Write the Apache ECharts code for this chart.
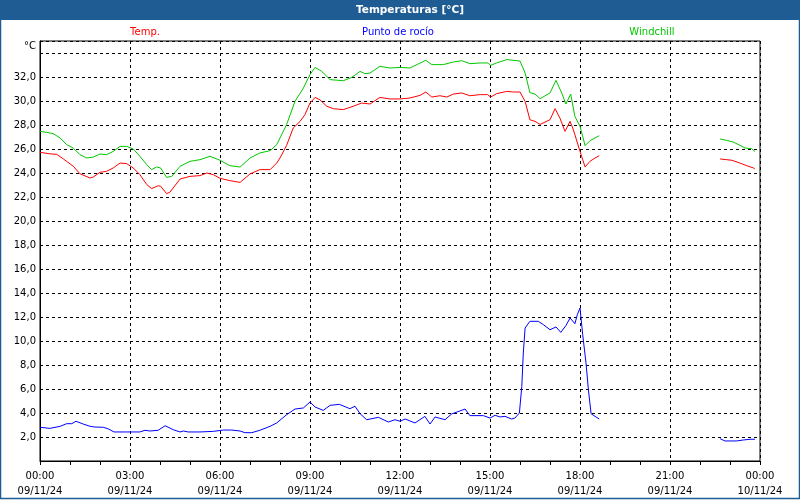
<!DOCTYPE html>
<html>
<head>
<meta charset="utf-8">
<script src="https://cdn.jsdelivr.net/npm/echarts@6/dist/echarts.min.js"></script>
<style>html,body{margin:0;padding:0;background:#fff}#c{width:800px;height:500px}</style>
</head>
<body>
<div id="c"></div>
<script>
// Time in hours from 00:00 09/11/24; null marks a gap in the record
var tempHours = [0,0.33,0.56,0.78,1.11,1.33,1.67,1.78,2.0,2.22,2.44,2.67,2.89,3.11,3.33,3.56,3.72,3.94,4.02,4.22,4.33,4.67,5.0,5.33,5.56,5.78,6.0,6.33,6.67,7.0,7.33,7.67,7.89,8.0,8.22,8.44,8.67,8.83,9.0,9.17,9.33,9.56,9.78,10.11,10.44,10.72,11.0,11.33,11.67,12.0,12.33,12.67,12.86,13.06,13.33,13.56,13.78,14.06,14.33,14.67,14.92,15.02,15.22,15.56,15.78,16.0,16.17,16.33,16.5,16.67,17.0,17.17,17.33,17.5,17.67,17.78,18.0,18.17,18.33,18.5,18.64,20.0,22.67,23.06,23.33,23.56,23.78,23.83];
var tempValues = [25.72,25.6,25.55,25.17,24.56,23.94,23.58,23.67,24.06,24.14,24.42,24.83,24.78,24.42,23.86,23.03,22.7,22.94,22.9,22.28,22.4,23.5,23.72,23.78,24.0,23.86,23.56,23.36,23.22,23.92,24.28,24.28,24.83,25.25,26.3,27.75,28.3,28.86,29.83,30.3,30.1,29.56,29.36,29.28,29.56,29.83,29.75,30.3,30.17,30.17,30.25,30.47,30.75,30.33,30.44,30.33,30.58,30.67,30.44,30.53,30.53,30.33,30.61,30.8,30.75,30.75,29.97,28.44,28.3,28.05,28.44,29.36,28.58,27.47,28.3,27.6,25.8,24.5,24.97,25.25,25.44,null,25.17,25.06,24.83,24.61,24.42,24.33];

var dewHours = [0,0.33,0.67,0.89,1.06,1.2,1.44,1.67,1.83,2.11,2.28,2.47,2.89,3.33,3.5,3.67,3.94,4.17,4.44,4.67,4.78,4.94,5.33,5.78,6.11,6.39,6.67,6.83,7.06,7.33,7.67,7.89,8.22,8.5,8.78,9.0,9.17,9.44,9.67,9.98,10.33,10.5,10.67,10.89,11.28,11.61,11.83,12.0,12.17,12.5,12.83,13.0,13.17,13.5,13.72,14.17,14.33,14.78,15.0,15.17,15.33,15.5,15.72,15.83,15.98,16.06,16.11,16.17,16.33,16.61,16.78,17.0,17.2,17.36,17.53,17.67,17.83,17.91,18.0,18.09,18.2,18.28,18.37,18.5,18.64,20.0,22.67,22.83,23.22,23.44,23.67,23.83];
var dewValues = [2.81,2.72,2.89,3.11,3.11,3.31,3.08,2.89,2.83,2.81,2.67,2.42,2.42,2.42,2.56,2.5,2.56,2.94,2.61,2.42,2.5,2.42,2.42,2.47,2.58,2.58,2.5,2.36,2.36,2.56,2.89,3.17,3.86,4.33,4.42,4.92,4.5,4.22,4.64,4.72,4.36,4.56,3.94,3.44,3.64,3.25,3.44,3.31,3.5,3.17,3.72,3.08,3.67,3.44,3.92,4.33,3.78,3.78,3.58,3.81,3.67,3.72,3.5,3.58,4.0,6.22,9.0,11.08,11.64,11.64,11.36,10.94,11.17,10.72,11.28,11.92,11.44,12.19,12.75,10.53,8.17,5.94,3.94,3.72,3.5,null,1.86,1.67,1.67,1.75,1.81,1.81];

var chillHours = [0,0.22,0.44,0.67,0.89,1.11,1.33,1.56,1.78,2.0,2.22,2.44,2.67,2.89,3.11,3.33,3.56,3.72,3.89,4.02,4.22,4.39,4.67,5.0,5.33,5.67,6.0,6.33,6.67,7.0,7.33,7.67,7.89,8.0,8.22,8.5,8.78,9.0,9.17,9.39,9.67,10.11,10.39,10.67,10.83,11.0,11.33,11.67,12.0,12.33,12.86,13.06,13.44,13.78,14.06,14.33,14.67,14.94,15.02,15.22,15.56,16.0,16.17,16.33,16.5,16.67,17.0,17.2,17.39,17.53,17.69,17.83,18.0,18.17,18.33,18.5,18.64,20.0,22.67,22.89,23.11,23.33,23.5,23.72,23.83];
var chillValues = [27.47,27.39,27.28,26.92,26.36,26.08,25.53,25.25,25.33,25.58,25.53,25.8,26.22,26.22,26.0,25.39,24.69,24.28,24.5,24.42,23.64,23.72,24.56,24.97,25.11,25.39,25.06,24.61,24.5,25.25,25.67,25.86,26.36,26.92,28.03,29.97,31.08,32.2,32.8,32.47,31.78,31.69,31.97,32.47,32.28,32.33,32.89,32.75,32.8,32.75,33.39,33.03,33.03,33.25,33.36,33.11,33.17,33.17,32.97,33.17,33.45,33.33,32.33,30.7,30.58,30.19,30.67,31.72,30.67,29.75,30.58,28.72,27.89,26.28,26.69,26.92,27.11,null,26.83,26.72,26.58,26.31,26.08,26.03,25.8];

var seriesNames = ['Temp.', 'Punto de rocío', 'Windchill'];
var seriesColors = ['#ff0000', '#0000ff', '#00c800'];
var dateLabels = ['09/11/24', '10/11/24'];
var chartTitle = 'Temperaturas [°C]';
var unitLabel = '°C';

function pairs(h, v) {
  return h.map(function (x, i) { return [x, v[i] === null ? '-' : v[i]]; });
}
function pad(n) { return (n < 10 ? '0' : '') + n; }

var FONT = 'DejaVu Sans';
var chart = echarts.init(document.getElementById('c'), null, {renderer: 'canvas'});
var dash = {color: '#000', width: 1, type: [3, 3]};

chart.setOption({
  animation: false,
  backgroundColor: '#fff',
  grid: {left: 40, right: 40, top: 41, bottom: 39, show: true, borderColor: '#000', borderWidth: 1, backgroundColor: 'transparent'},
  xAxis: {
    type: 'value', min: 0, max: 24, interval: 3,
    axisLine: {show: true, lineStyle: {color: '#000'}},
    axisTick: {show: true, length: 4, lineStyle: {color: '#000'}},
    minorTick: {show: true, splitNumber: 3, length: 4, lineStyle: {color: '#000'}},
    splitLine: {show: true, lineStyle: dash},
    axisLabel: {
      margin: 8, color: '#000', fontFamily: FONT, fontSize: 10, lineHeight: 15,
      formatter: function (v) {
        var h = Math.round(v) % 24;
        var d = v >= 24 ? dateLabels[1] : dateLabels[0];
        return pad(h) + ':00\n' + d;
      }
    }
  },
  yAxis: {
    type: 'value', min: 0, max: 35, interval: 2,
    axisLine: {show: true, lineStyle: {color: '#000'}},
    axisTick: {show: false},
    splitLine: {show: true, lineStyle: dash},
    axisLabel: {
      margin: 4, color: '#000', fontFamily: FONT, fontSize: 10, showMaxLabel: false,
      formatter: function (v) {
        if (v === 0 || v >= 34) return '';
        return v.toFixed(1).replace('.', ',');
      }
    }
  },
  graphic: [
    {type: 'rect', shape: {x: 0, y: 0, width: 800, height: 20}, style: {fill: '#1f5c94'}, silent: true},
    {type: 'rect', shape: {x: 0.5, y: 0.5, width: 799, height: 498}, style: {fill: 'none', stroke: '#1f5c94', lineWidth: 1.5}, silent: true},
    {type: 'text', x: 410, y: 10, style: {text: chartTitle, fill: '#fff', font: 'bold 10.5px ' + FONT, textAlign: 'center', textVerticalAlign: 'middle'}},
    {type: 'text', x: 145, y: 32, style: {text: seriesNames[0], fill: seriesColors[0], font: '10px ' + FONT, textAlign: 'center', textVerticalAlign: 'middle'}},
    {type: 'text', x: 398, y: 32, style: {text: seriesNames[1], fill: seriesColors[1], font: '10px ' + FONT, textAlign: 'center', textVerticalAlign: 'middle'}},
    {type: 'text', x: 652, y: 32, style: {text: seriesNames[2], fill: seriesColors[2], font: '10px ' + FONT, textAlign: 'center', textVerticalAlign: 'middle'}},
    {type: 'text', x: 36, y: 46, style: {text: unitLabel, fill: '#000', font: '10px ' + FONT, textAlign: 'right', textVerticalAlign: 'middle'}}
  ],
  series: [
    {name: seriesNames[0], type: 'line', data: pairs(tempHours, tempValues), showSymbol: false, symbol: 'none', connectNulls: false, lineStyle: {color: seriesColors[0], width: 1}, itemStyle: {color: seriesColors[0]}, z: 3},
    {name: seriesNames[1], type: 'line', data: pairs(dewHours, dewValues), showSymbol: false, symbol: 'none', connectNulls: false, lineStyle: {color: seriesColors[1], width: 1}, itemStyle: {color: seriesColors[1]}, z: 3},
    {name: seriesNames[2], type: 'line', data: pairs(chillHours, chillValues), showSymbol: false, symbol: 'none', connectNulls: false, lineStyle: {color: seriesColors[2], width: 1}, itemStyle: {color: seriesColors[2]}, z: 3}
  ]
});
</script>
</body>
</html>
